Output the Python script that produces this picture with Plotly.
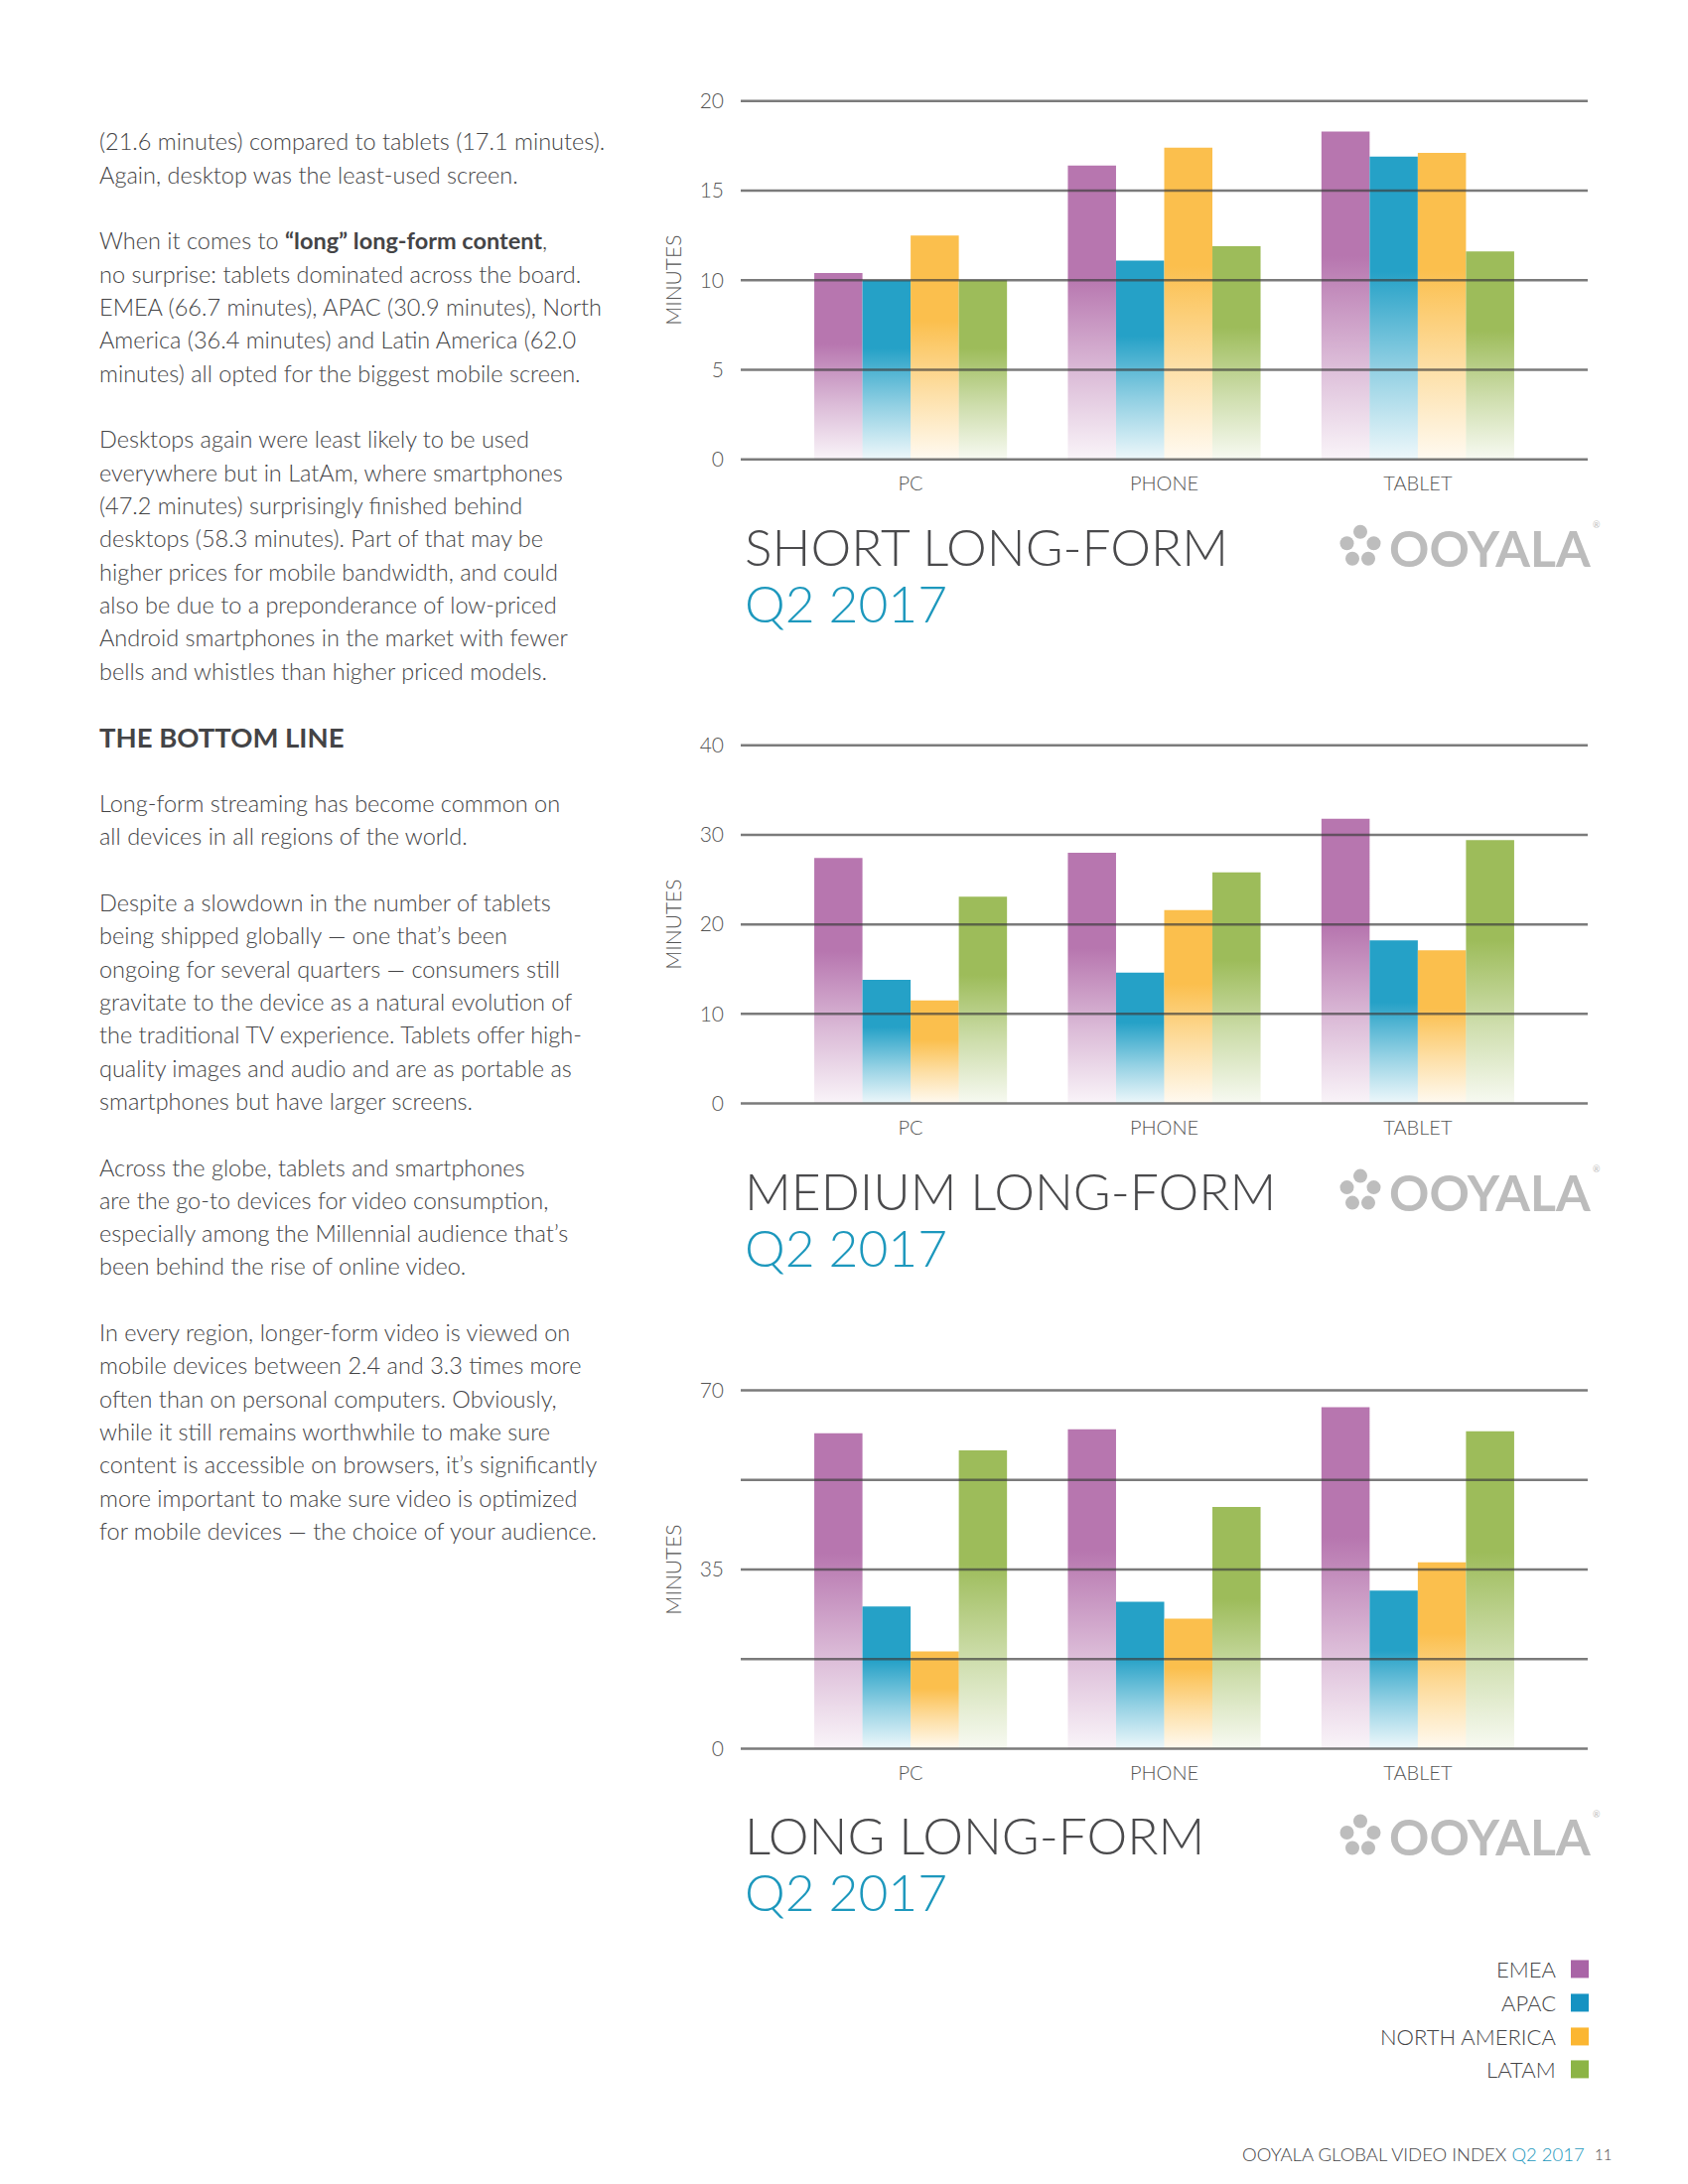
import plotly.graph_objects as go

# ---------------- data ----------------
categories = ["PC", "PHONE", "TABLET"]
regions = ["EMEA", "APAC", "NORTH AMERICA", "LATAM"]

short_emea = [10.4, 16.4, 18.3]
short_apac = [10.0, 11.1, 16.9]
short_na = [12.5, 17.4, 17.1]
short_latam = [10.0, 11.9, 11.6]

medium_emea = [27.4, 28.0, 31.8]
medium_apac = [13.8, 14.6, 18.2]
medium_na = [11.5, 21.6, 17.1]
medium_latam = [23.1, 25.8, 29.4]

long_emea = [61.6, 62.4, 66.7]
long_apac = [27.8, 28.7, 30.9]
long_na = [19.0, 25.4, 36.4]
long_latam = [58.3, 47.2, 62.0]

short_ticks = [0, 5, 10, 15, 20]
short_ticktext = ["0", "5", "10", "15", "20"]
medium_ticks = [0, 10, 20, 30, 40]
medium_ticktext = ["0", "10", "20", "30", "40"]
long_ticks = [0, 17.5, 35, 52.5, 70]
long_ticktext = ["0", "", "35", "", "70"]

chart_titles = ["SHORT LONG-FORM", "MEDIUM LONG-FORM", "LONG LONG-FORM"]
quarter_label = "Q2 2017"

body_lines = [
    "(21.6 minutes) compared to tablets (17.1 minutes).",
    "Again, desktop was the least-used screen.",
    "",
    "When it comes to <b>“long” long-form content</b>,",
    "no surprise: tablets dominated across the board.",
    "EMEA (66.7 minutes), APAC (30.9 minutes), North",
    "America (36.4 minutes) and Latin America (62.0",
    "minutes) all opted for the biggest mobile screen.",
    "",
    "Desktops again were least likely to be used",
    "everywhere but in LatAm, where smartphones",
    "(47.2 minutes) surprisingly finished behind",
    "desktops (58.3 minutes). Part of that may be",
    "higher prices for mobile bandwidth, and could",
    "also be due to a preponderance of low-priced",
    "Android smartphones in the market with fewer",
    "bells and whistles than higher priced models.",
    "",
    "##THE BOTTOM LINE",
    "",
    "Long-form streaming has become common on",
    "all devices in all regions of the world.",
    "",
    "Despite a slowdown in the number of tablets",
    "being shipped globally — one that’s been",
    "ongoing for several quarters — consumers still",
    "gravitate to the device as a natural evolution of",
    "the traditional TV experience. Tablets offer high-",
    "quality images and audio and are as portable as",
    "smartphones but have larger screens.",
    "",
    "Across the globe, tablets and smartphones",
    "are the go-to devices for video consumption,",
    "especially among the Millennial audience that’s",
    "been behind the rise of online video.",
    "",
    "In every region, longer-form video is viewed on",
    "mobile devices between 2.4 and 3.3 times more",
    "often than on personal computers. Obviously,",
    "while it still remains worthwhile to make sure",
    "content is accessible on browsers, it’s significantly",
    "more important to make sure video is optimized",
    "for mobile devices — the choice of your audience.",
]

# ---------------- styles ----------------
W, H = 1700, 2200
FONT = "Lato"
TEXT = "#444446"
TEAL = "#1d98bd"
bar_rgb = {
    "EMEA": (183, 118, 175),
    "APAC": (37, 161, 199),
    "NORTH AMERICA": (251, 191, 77),
    "LATAM": (157, 188, 90),
}
legend_colors = {
    "EMEA": "#a964a6",
    "APAC": "#1592c2",
    "NORTH AMERICA": "#fbb632",
    "LATAM": "#8cb445",
}


def PX(x):
    return x / W


def PY(y):
    # page-pixel y (from top) -> paper fraction, with a small vertical calibration
    yy = (y - 9.2) / 0.992
    return 1 - yy / H


charts = [
    dict(data=[short_emea, short_apac, short_na, short_latam], ticks=short_ticks,
         ticktext=short_ticktext, top=101, bottom=462),
    dict(data=[medium_emea, medium_apac, medium_na, medium_latam], ticks=medium_ticks,
         ticktext=medium_ticktext, top=750, bottom=1111),
    dict(data=[long_emea, long_apac, long_na, long_latam], ticks=long_ticks,
         ticktext=long_ticktext, top=1400, bottom=1761),
]

fig = go.Figure()
bar_w = 0.19
x_left_px, x_right_px = 746, 1599

annotations = []
shapes = []

for ci, ch in enumerate(charts):
    n = "" if ci == 0 else str(ci + 1)
    xa, ya = "x" + n, "y" + n
    ymax = ch["ticks"][-1]
    pad = ymax * 0.01
    ppu = (ch["bottom"] - ch["top"]) / ymax
    dom_top = ch["top"] - pad * ppu
    dom_bot = ch["bottom"] + pad * ppu

    for ri, reg in enumerate(regions):
        r, g, b = bar_rgb[reg]
        cs = [
            [0.0, f"rgba({r},{g},{b},0.08)"],
            [0.3, f"rgba({r},{g},{b},0.5)"],
            [0.62, f"rgba({r},{g},{b},1)"],
            [1.0, f"rgba({r},{g},{b},1)"],
        ]
        for i, cat in enumerate(categories):
            v = ch["data"][ri][i]
            x0 = i + (ri - 2) * bar_w
            x1 = x0 + bar_w
            fig.add_trace(go.Scatter(
                x=[x0, x0, x1, x1, x0], y=[0, v, v, 0, 0],
                mode="lines", fill="toself",
                fillgradient=dict(type="vertical", colorscale=cs),
                line=dict(width=0, color=f"rgba({r},{g},{b},0)"),
                name=reg, showlegend=False, hoverinfo="skip",
                xaxis=xa, yaxis=ya,
            ))

    fig.update_layout(**{
        ("xaxis" + n): dict(
            domain=[PX(x_left_px), PX(x_right_px)], range=[-0.67, 2.67],
            tickvals=[0, 1, 2], ticktext=categories, showgrid=False, zeroline=False,
            showline=False, ticks="", ticklabelstandoff=7, anchor=ya, fixedrange=True,
            tickfont=dict(family=FONT, size=20, color="#555555", weight=300),
        ),
        ("yaxis" + n): dict(
            domain=[PY(dom_bot), PY(dom_top)], range=[-pad, ymax + pad],
            tickvals=ch["ticks"], ticktext=ch["ticktext"], showgrid=False,
            zeroline=False, showline=False, ticks="", ticklabelstandoff=16,
            anchor=xa, fixedrange=True,
            tickfont=dict(family=FONT, size=21, color="#555555", weight=300),
            title=dict(text="MINUTES", standoff=12,
                       font=dict(family=FONT, size=21, color="#555555", weight=300)),
        ),
    })

    for t in ch["ticks"]:
        shapes.append(dict(type="line", xref=xa + " domain", yref=ya, x0=0, x1=1,
                           y0=t, y1=t, layer="above",
                           line=dict(color="rgba(60,60,60,0.68)", width=2.5)))

    base = ch["bottom"]
    annotations.append(dict(x=PX(748), y=PY(base + 87), xref="paper", yref="paper",
                            text=chart_titles[ci], showarrow=False, xanchor="left",
                            yanchor="middle",
                            font=dict(family=FONT, size=51.5, color="#4a4a4c", weight=300)))
    annotations.append(dict(x=PX(748), y=PY(base + 144), xref="paper", yref="paper",
                            text=quarter_label, showarrow=False, xanchor="left",
                            yanchor="middle",
                            font=dict(family=FONT, size=51.5, color=TEAL, weight=300)))
    # logo
    ly = base + 87
    for (dx, dy) in [(0, -14), (-13.5, -2.5), (13.5, -2.5), (-8, 13), (8, 13)]:
        cx, cy = 1370 + dx, ly + dy
        shapes.append(dict(type="circle", xref="paper", yref="paper",
                           x0=PX(cx - 7), x1=PX(cx + 7), y0=PY(cy + 7), y1=PY(cy - 7),
                           fillcolor="#bdbdbd", line=dict(width=0), layer="above"))
    annotations.append(dict(x=PX(1397), y=PY(ly + 2), xref="paper", yref="paper",
                            text="OOYALA", showarrow=False, xanchor="left", yanchor="middle",
                            font=dict(family=FONT, size=50, color="#bcbcbc", weight=700)))
    annotations.append(dict(x=PX(1602), y=PY(ly - 21), xref="paper", yref="paper",
                            text="®", showarrow=False, xanchor="left", yanchor="middle",
                            font=dict(family=FONT, size=9, color="#bcbcbc")))

# left column text
for idx, line in enumerate(body_lines):
    if not line:
        continue
    y = 141.7 + idx * 33.33
    if line.startswith("##"):
        txt = "<b>" + line[2:] + "</b>"
        f = dict(family=FONT, size=27.5, color=TEXT)
    else:
        txt = line
        f = dict(family=FONT, size=23.5, color=TEXT, weight=300)
    annotations.append(dict(x=PX(98), y=PY(y), xref="paper", yref="paper", text=txt,
                            showarrow=False, xanchor="left", yanchor="middle", font=f))

# legend
legend_y = [1983, 2017, 2051, 2084]
for reg, yy in zip(regions, legend_y):
    annotations.append(dict(x=PX(1569), y=PY(yy), xref="paper", yref="paper", text=reg,
                            showarrow=False, xanchor="right", yanchor="middle",
                            font=dict(family=FONT, size=22, color=TEXT, weight=300)))
    shapes.append(dict(type="rect", xref="paper", yref="paper",
                       x0=PX(1582), x1=PX(1600), y0=PY(yy + 9), y1=PY(yy - 9),
                       fillcolor=legend_colors[reg], line=dict(width=0)))

# footer
annotations.append(dict(x=PX(1598), y=PY(2170), xref="paper", yref="paper",
                        text=f"OOYALA GLOBAL VIDEO INDEX <span style='color:{TEAL}'>{quarter_label}</span>",
                        showarrow=False, xanchor="right", yanchor="middle",
                        font=dict(family=FONT, size=18.5, color=TEXT, weight=300)))
annotations.append(dict(x=PX(1604), y=PY(2170), xref="paper", yref="paper", text="11",
                        showarrow=False, xanchor="left", yanchor="middle",
                        font=dict(family=FONT, size=15, color=TEXT, weight=300)))

fig.update_layout(
    width=W, height=H, margin=dict(l=0, r=0, t=0, b=0),
    paper_bgcolor="white", plot_bgcolor="white", showlegend=False,
    annotations=annotations, shapes=shapes,
)

fig.write_html(
    "out.html",
    config={"displayModeBar": False},
    post_script=(
        "document.body.style.margin='0px';"
        "var gd=document.getElementById('{plot_id}');"
        "gd.style.position='absolute';gd.style.left='0px';gd.style.top='0px';"
    ),
)
